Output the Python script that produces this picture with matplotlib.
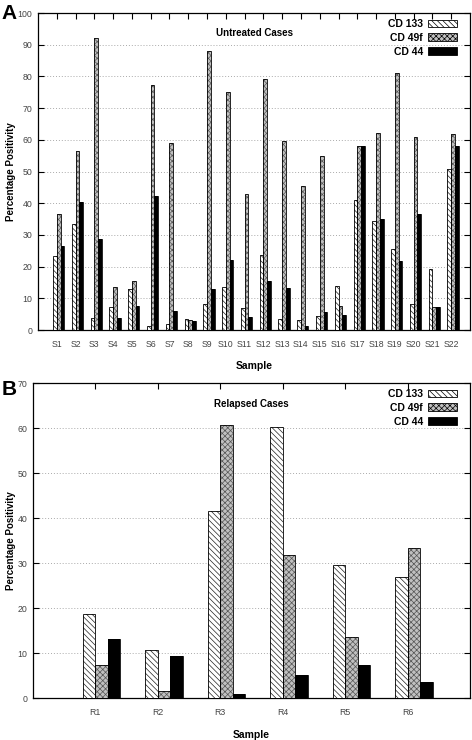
"""
Two-panel clustered bar chart: CD133 / CD49f / CD44 positivity
for untreated (A) and relapsed (B) cases.
"""

import numpy as np
import matplotlib
matplotlib.use('Agg')
import matplotlib.pyplot as plt
from matplotlib.patches import Patch

plt.rcParams['font.family'] = ['Liberation Sans', 'DejaVu Sans']
plt.rcParams['hatch.linewidth'] = 0.5

# ---- Data ------------------------------------------------------------
MARKERS = ['CD 133', 'CD 49f', 'CD 44']

untreated_samples = [f'S{i}' for i in range(1, 23)]
untreated_cd133 = [23.2, 33.5, 3.8, 7.4, 12.8, 1.4, 2.0, 3.5, 8.2, 13.7, 7.1,
                   23.7, 3.4, 3.3, 4.5, 14.0, 40.9, 34.3, 25.5, 8.2, 19.1, 50.7]
untreated_cd49f = [36.5, 56.4, 92.0, 13.7, 15.6, 77.2, 58.9, 3.3, 87.9, 75.0, 43.0,
                   79.1, 59.7, 45.4, 55.0, 7.7, 58.2, 62.0, 81.0, 61.0, 7.2, 61.8]
untreated_cd44 = [26.6, 40.3, 28.8, 3.9, 7.7, 42.3, 5.9, 2.8, 13.0, 22.0, 4.0,
                  15.4, 13.3, 1.2, 5.7, 4.6, 58.2, 35.0, 21.8, 36.5, 7.2, 57.9]

relapsed_samples = ['R1', 'R2', 'R3', 'R4', 'R5', 'R6']
relapsed_cd133 = [18.7, 10.7, 41.6, 60.3, 29.7, 26.9]
relapsed_cd49f = [7.5, 1.7, 60.7, 31.9, 13.6, 33.4]
relapsed_cd44 = [13.1, 9.4, 1.1, 5.2, 7.5, 3.6]

# ---- Styles ----------------------------------------------------------
BAR_W = 0.2
OFFSETS = [-0.1, 0.1, 0.3]
# fill + hatch pass (hatch takes the edge colour), then a black outline pass
FILLS = [
    dict(facecolor='white', edgecolor='#222222', hatch='\\\\\\\\\\\\'),
    dict(facecolor='#c0c0c0', edgecolor='#555555', hatch='xxxxxx'),
    dict(facecolor='black', edgecolor='black', hatch=None),
]
TICK_COLOR = '#444444'


def draw_panel(ax, samples, series, ymax, ystep, title, title_y, ylab_x):
    x = np.arange(1, len(samples) + 1)
    for vals, off, st in zip(series, OFFSETS, FILLS):
        ax.bar(x + off, vals, width=BAR_W, linewidth=0, zorder=3, **st)
        ax.bar(x + off, vals, width=BAR_W, fill=False, edgecolor='black',
               linewidth=0.6, zorder=4)

    ax.set_xlim(0, len(samples) + 1)
    ax.set_ylim(0, ymax)
    ax.set_xticks(x)
    ax.set_xticklabels(samples)
    ax.set_yticks(np.arange(0, ymax + 1, ystep))
    ax.tick_params(direction='in', length=4, width=0.8, top=True, right=True,
                   colors='black', labelsize=6.3)
    ax.tick_params(axis='x', pad=7)
    ax.tick_params(axis='y', pad=4)
    for lbl in ax.get_xticklabels() + ax.get_yticklabels():
        lbl.set_color(TICK_COLOR)
    ax.yaxis.grid(True, linestyle=(0, (1, 2)), color='#aaaaaa', linewidth=0.7, zorder=0)
    ax.set_axisbelow(True)
    for sp in ax.spines.values():
        sp.set_linewidth(0.9)

    ax.set_xlabel('Sample', fontsize=7.5, fontweight='bold', labelpad=9)
    ax.set_ylabel('Percentage Positivity', fontsize=7, fontweight='bold')
    ax.yaxis.set_label_coords(ylab_x, 0.5)

    ax.text(0.5, title_y, title, transform=ax.transAxes, ha='center', va='center',
            fontsize=7, fontweight='bold')

    handles = [Patch(linewidth=0.6, facecolor=st['facecolor'], edgecolor='black',
                     hatch=st['hatch']) for st in FILLS]
    ax.legend(handles, MARKERS, loc='upper right', frameon=False, markerfirst=False,
              prop={'size': 7.5, 'weight': 'bold'}, handlelength=2.8,
              handleheight=0.75, labelspacing=0.35, handletextpad=0.5,
              borderaxespad=0.2, bbox_to_anchor=(0.985, 1.0))


def main():
    fig = plt.figure(figsize=(4.72, 7.40), dpi=100)

    ax_a = fig.add_axes([0.0805, 0.554, 0.9153, 0.4284])
    draw_panel(ax_a, untreated_samples,
               [untreated_cd133, untreated_cd49f, untreated_cd44],
               100, 10, 'Untreated Cases', 0.936, -0.051)

    ax_b = fig.add_axes([0.0699, 0.0561, 0.9259, 0.4263])
    draw_panel(ax_b, relapsed_samples,
               [relapsed_cd133, relapsed_cd49f, relapsed_cd44],
               70, 10, 'Relapsed Cases', 0.932, -0.039)

    fig.text(0.003, 0.995, 'A', fontsize=15, fontweight='bold', va='top', ha='left')
    fig.text(0.003, 0.487, 'B', fontsize=15, fontweight='bold', va='top', ha='left')

    fig.savefig('out.png', dpi=100, facecolor='white')


if __name__ == '__main__':
    main()
